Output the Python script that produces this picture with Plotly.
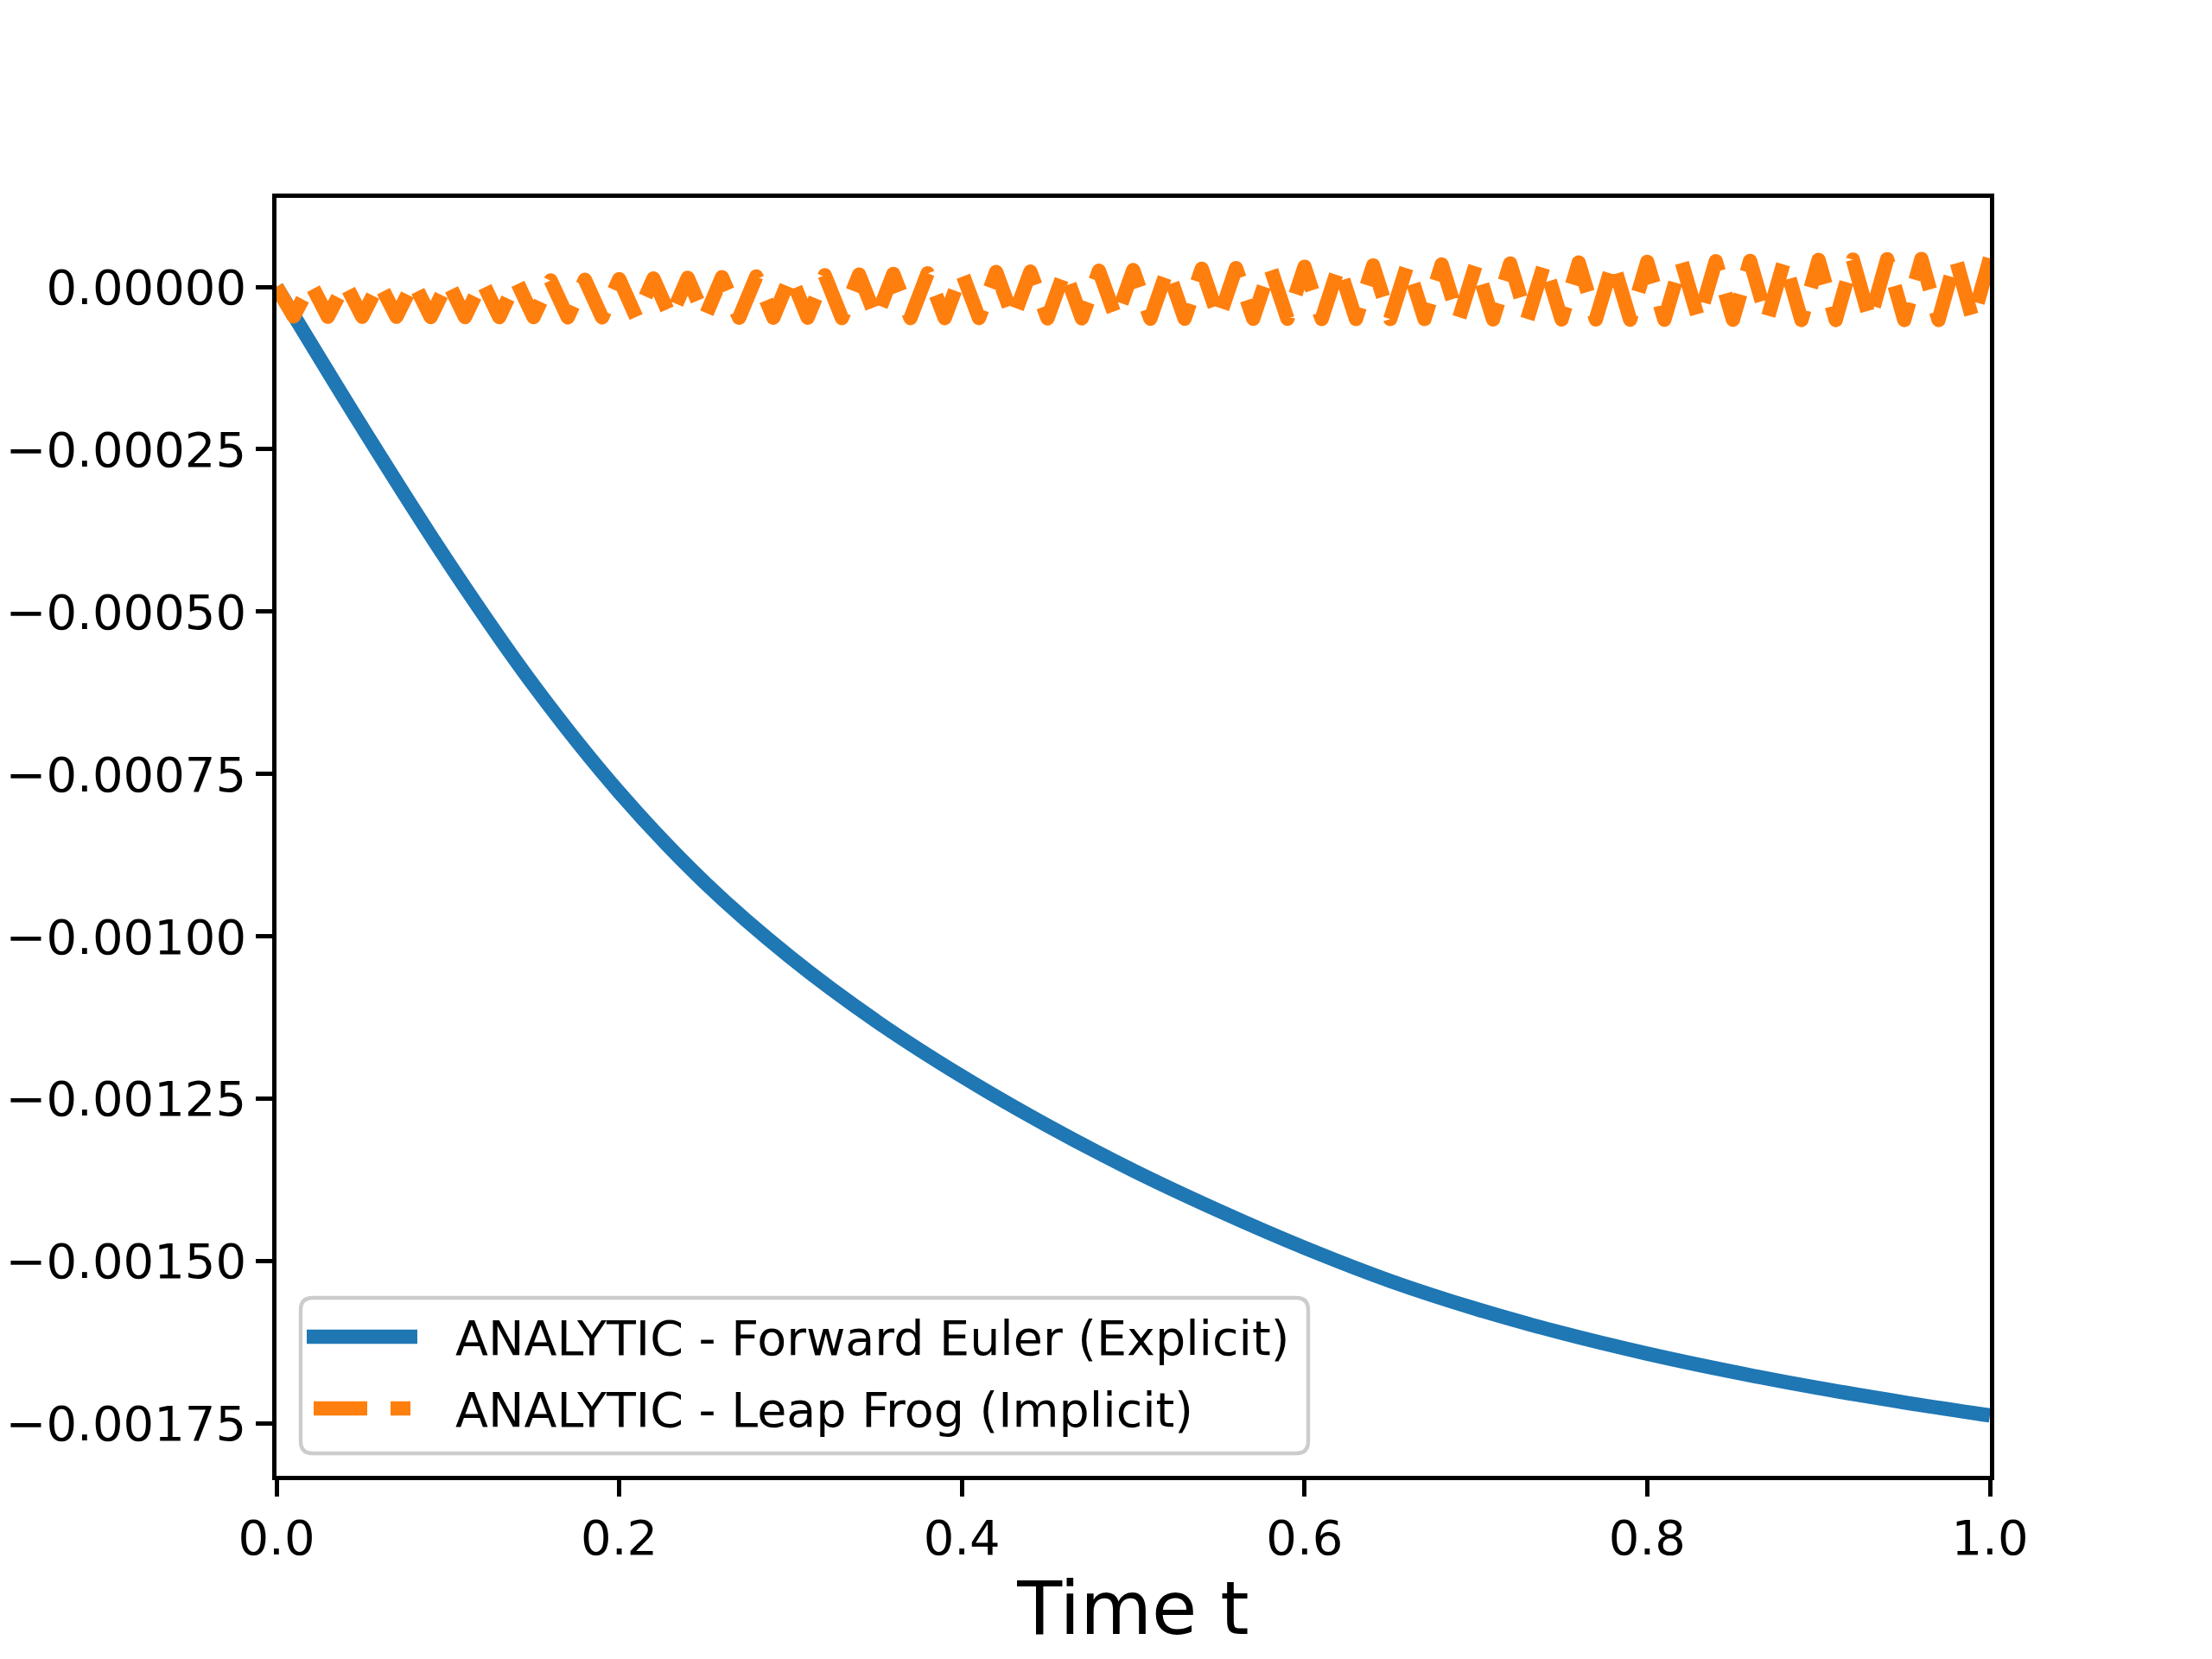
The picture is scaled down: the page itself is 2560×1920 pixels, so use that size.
import plotly.graph_objects as go

# error of forward euler vs analytic solution (every 0.05)
t_euler = [0.0, 0.05, 0.1, 0.15, 0.2, 0.25, 0.3, 0.35, 0.4, 0.45, 0.5,
           0.55, 0.6, 0.65, 0.7, 0.75, 0.8, 0.85, 0.9, 0.95, 1.0]
err_euler = [0.0, -0.000216, -0.000423, -0.000613, -0.000778, -0.000917,
             -0.001032, -0.001130, -0.001215, -0.001291, -0.001360,
             -0.001422, -0.001479, -0.001530, -0.001573, -0.001610,
             -0.001642, -0.001670, -0.001695, -0.001717, -0.001737]

# leap frog error, one value per step (dt = 0.01), zig-zags every step
t_leap = [round(i * 0.01, 2) for i in range(101)]
err_leap = [
    0.0, -4.55e-05, 0.5e-05, -4.6e-05, 0.55e-05, -4.6e-05, 0.6e-05, -4.6e-05, 0.7e-05, -4.65e-05,
    0.8e-05, -4.65e-05, 0.85e-05, -4.65e-05, 0.95e-05, -4.65e-05, 1.0e-05, -4.7e-05, 1.1e-05, -4.7e-05,
    1.2e-05, -4.7e-05, 1.3e-05, -4.7e-05, 1.4e-05, -4.75e-05, 1.5e-05, -4.75e-05, 1.6e-05, -4.75e-05,
    1.7e-05, -4.75e-05, 1.8e-05, -4.8e-05, 1.9e-05, -4.8e-05, 2.0e-05, -4.8e-05, 2.1e-05, -4.8e-05,
    2.2e-05, -4.8e-05, 2.3e-05, -4.85e-05, 2.35e-05, -4.85e-05, 2.45e-05, -4.85e-05, 2.5e-05, -4.85e-05,
    2.6e-05, -4.9e-05, 2.7e-05, -4.9e-05, 2.8e-05, -4.9e-05, 2.9e-05, -4.9e-05, 3.0e-05, -4.9e-05,
    3.1e-05, -4.95e-05, 3.2e-05, -4.95e-05, 3.3e-05, -4.95e-05, 3.4e-05, -4.95e-05, 3.45e-05, -5.0e-05,
    3.5e-05, -5.0e-05, 3.6e-05, -5.0e-05, 3.65e-05, -5.0e-05, 3.75e-05, -5.0e-05, 3.8e-05, -5.05e-05,
    3.85e-05, -5.05e-05, 3.9e-05, -5.05e-05, 3.95e-05, -5.05e-05, 4.0e-05, -5.05e-05, 4.1e-05, -5.1e-05,
    4.15e-05, -5.1e-05, 4.2e-05, -5.1e-05, 4.25e-05, -5.1e-05, 4.3e-05, -5.1e-05, 4.35e-05, -5.1e-05,
    4.4e-05,
]

labels = ['ANALYTIC - Forward Euler (Explicit)', 'ANALYTIC - Leap Frog (Implicit)']
colors = ['#1f77b4', '#ff7f0e']

x_ticks = [0.0, 0.2, 0.4, 0.6, 0.8, 1.0]
x_ticktext = ['0.0', '0.2', '0.4', '0.6', '0.8', '1.0']
y_ticks = [0.0, -0.00025, -0.0005, -0.00075, -0.001, -0.00125, -0.0015, -0.00175]
y_ticktext = ['0.00000', '\u22120.00025', '\u22120.00050', '\u22120.00075',
              '\u22120.00100', '\u22120.00125', '\u22120.00150', '\u22120.00175']

font = 'DejaVu Sans'
W, H = 2560, 1920
L, R, T, B = 320, 2303, 229, 1708   # plot area in pixels
LW = 16.5
DASH = '62px,27px'


def px(x):
    return (x - L) / (R - L)


def py(y):
    return (B - y) / (B - T)


fig = go.Figure()
fig.add_trace(go.Scatter(x=t_euler, y=err_euler, mode='lines', name=labels[0],
                         line=dict(color=colors[0], width=LW, shape='spline'),
                         showlegend=False))
fig.add_trace(go.Scatter(x=t_leap, y=err_leap, mode='lines', name=labels[1],
                         line=dict(color=colors[1], width=LW, dash=DASH),
                         showlegend=False))

axis_common = dict(
    showgrid=False, zeroline=False,
    showline=True, linecolor='black', linewidth=4.5, mirror=True,
    ticks='outside', ticklen=19, tickwidth=4.5, tickcolor='black',
    tickfont=dict(family=font, size=56, color='black'),
)

# matplotlib-like legend box (rounded, light grey frame)
bx0, bx1, by0, by1, rad = 348, 1514, 1502, 1682, 14
rx, ry = rad / (R - L), rad / (B - T)
x0, x1, y0, y1 = px(bx0), px(bx1), py(by1), py(by0)
box_path = (f'M {x0 + rx},{y0} L {x1 - rx},{y0} Q {x1},{y0} {x1},{y0 + ry} '
            f'L {x1},{y1 - ry} Q {x1},{y1} {x1 - rx},{y1} L {x0 + rx},{y1} '
            f'Q {x0},{y1} {x0},{y1 - ry} L {x0},{y0 + ry} Q {x0},{y0} {x0 + rx},{y0} Z')

shapes = [dict(type='path', xref='paper', yref='paper', path=box_path,
               fillcolor='rgba(255,255,255,0.8)', line=dict(color='#cccccc', width=4.4))]
annotations = []
rows = [1547, 1630]
for i, row in enumerate(rows):
    if i == 0:
        hx0, hx1, dash = 355, 483, 'solid'
    else:
        hx0, hx1, dash = 363, 475, DASH
    shapes.append(dict(type='line', xref='paper', yref='paper',
                       x0=px(hx0), x1=px(hx1), y0=py(row), y1=py(row),
                       line=dict(color=colors[i], width=LW, dash=dash)))
    annotations.append(dict(text=labels[i], xref='paper', yref='paper',
                            x=px(525), y=py(row + 1), xanchor='left', yanchor='middle',
                            showarrow=False, font=dict(family=font, size=55.5, color='black')))

fig.update_layout(
    width=W, height=H,
    margin=dict(l=L, r=W - R, t=T, b=H - B, autoexpand=False),
    paper_bgcolor='white', plot_bgcolor='white',
    font=dict(family=font, color='black'),
    xaxis=dict(range=[0, 1], tickvals=x_ticks, ticktext=x_ticktext,
               title=dict(text='Time t', font=dict(family=font, size=85, color='black'), standoff=22),
               **axis_common),
    yaxis=dict(range=[-0.00183, 0.000137], tickvals=y_ticks, ticktext=y_ticktext,
               **axis_common),
    shapes=shapes,
    annotations=annotations,
    showlegend=False,
)

fig.write_html('out.html', config={'displayModeBar': False}, post_script=(
    "document.body.style.margin='0';"
    "document.querySelectorAll('.scatterlayer .js-line').forEach(function(p){p.style.strokeLinejoin='round';});"
))
